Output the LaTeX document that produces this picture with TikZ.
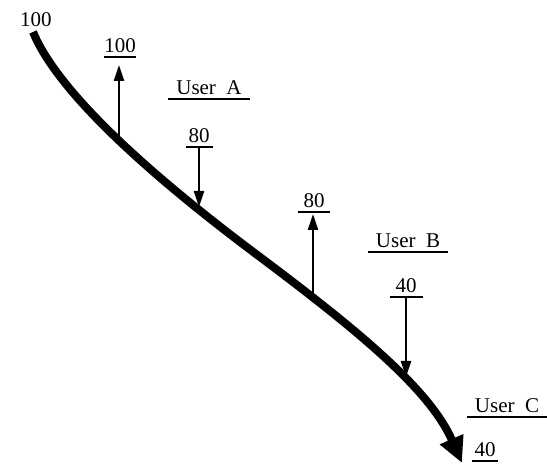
\documentclass[tikz,border=0pt]{standalone}
\usepackage{fontspec}
\setmainfont{Liberation Serif}
\usetikzlibrary{arrows.meta}
\begin{document}
\begin{tikzpicture}[x=0.5pt,y=-0.5pt,
  every node/.style={font=\fontsize{10.5}{12}\selectfont},
  lab/.style={anchor=base, inner sep=0pt, text depth=0pt},
  ul/.style={lab, outer xsep=0pt, outer ysep=2pt, minimum width=#1,
    append after command={(\tikzlastnode.south west) edge[line width=1pt] (\tikzlastnode.south east)}},
  flow/.style={line width=4pt, -{Triangle[length=13pt,width=12pt]}},
  sarrow/.style={line width=1.2pt, -{Triangle[length=8pt,width=5pt]}}]
\useasboundingbox (0,0) rectangle (547,464);

% main flow curve
\coordinate (s) at (33,32);
\coordinate (m) at (260,257);
\coordinate (e) at (462,463);
\draw[flow] (s) .. controls (55,85) and (130,160) .. (m)
                .. controls (360,332) and (430,390) .. (e);

% points on the curve
\coordinate (c100) at (119,139);
\coordinate (c80a) at (199,209);
\coordinate (c80b) at (313,297);
\coordinate (c40a) at (406,380);

% labels
\node[lab] (top100) at (36,27) {100};
\node[ul=15pt] (n100) at (120,53) {100};
\node[ul=41pt] (userA) at (209,95) {User\ \ A};
\node[ul=13.5pt] (n80a) at (199,143) {80};
\node[ul=16pt] (n80b) at (314,208) {80};
\node[ul=40pt] (userB) at (408,248) {User\ \ B};
\node[ul=16.5pt] (n40a) at (406,293) {40};
\node[ul=40pt] (userC) at (507,413) {User\ \ C};
\node[ul=13pt] (n40b) at (485,457) {40};

% small arrows
\draw[sarrow, shorten >=4pt] (c100) -- (c100 |- n100.south);
\draw[sarrow, shorten >=1pt] (n80a.south) -- (n80a.south |- c80a);
\draw[sarrow, shorten >=1pt] (c80b) -- (c80b |- n80b.south);
\draw[sarrow, shorten >=1.5pt] (n40a.south) -- (n40a.south |- c40a);
\end{tikzpicture}
\end{document}
